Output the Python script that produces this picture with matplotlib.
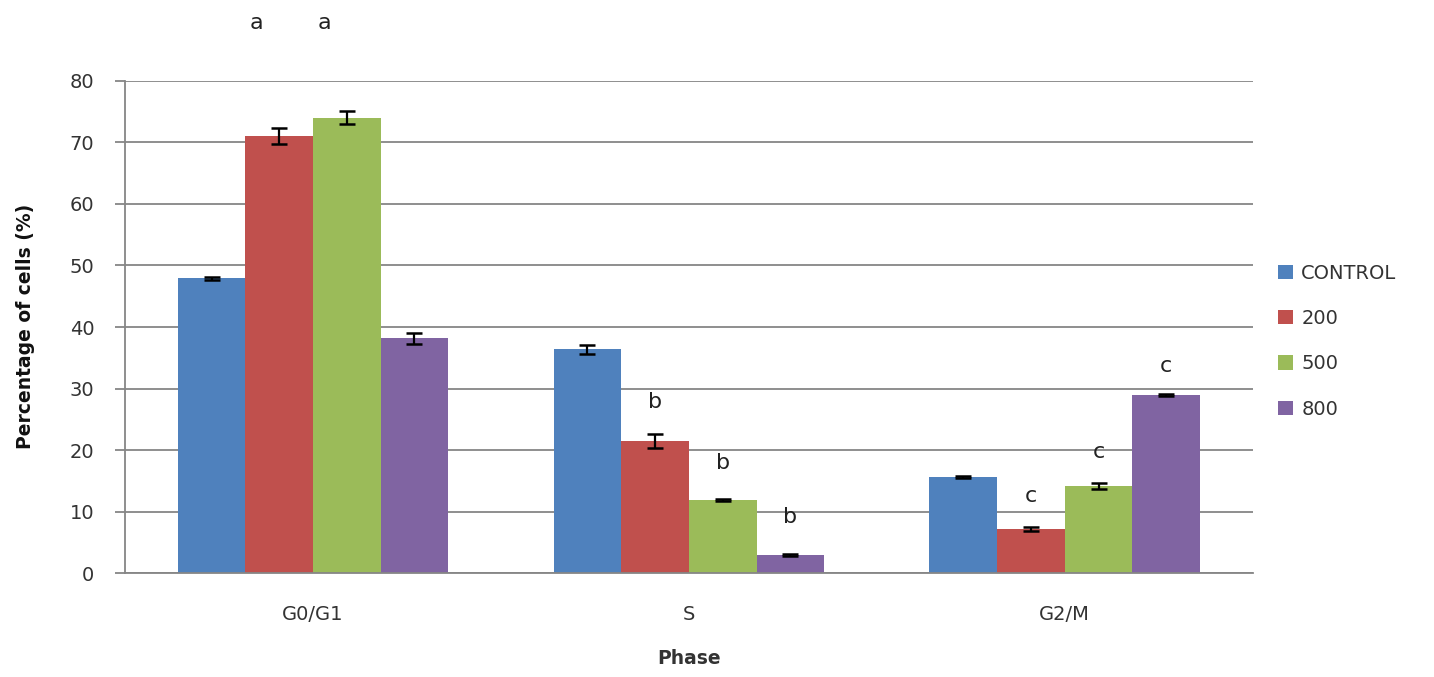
import numpy as np
import matplotlib
matplotlib.use("Agg")
import matplotlib.pyplot as plt

# Données
phases = ["G0/G1", "S", "G2/M"]
groups = ["CONTROL", "200", "500", "800"]
control = [47.9, 36.4, 15.7]
dose_200 = [71.0, 21.5, 7.2]
dose_500 = [74.0, 11.9, 14.2]
dose_800 = [38.2, 3.0, 29.0]
err_control = [0.2, 0.7, 0.2]
err_200 = [1.3, 1.1, 0.35]
err_500 = [1.0, 0.2, 0.5]
err_800 = [0.9, 0.2, 0.2]

# Lettres de signification: (phase, série, lettre, hauteur)
sig_phase = [0, 0, 1, 1, 1, 2, 2, 2]
sig_series = [1, 2, 1, 2, 3, 1, 2, 3]
sig_letters = ["a", "a", "b", "b", "b", "c", "c", "c"]
sig_heights = [89.4, 89.4, 27.9, 17.9, 9.1, 12.5, 19.7, 33.7]

values = [control, dose_200, dose_500, dose_800]
errors = [err_control, err_200, err_500, err_800]
colors = ["#4F81BD", "#C0504D", "#9BBB59", "#8064A2"]
grid_col = "#868686"
txt_col = "#333333"

fig = plt.figure(figsize=(14.34, 6.77), dpi=100)
ax = fig.add_axes([0.0872, 0.1529, 0.7864, 0.7279])

x = np.arange(len(phases))
w = 0.18
for i, (vals, errs) in enumerate(zip(values, errors)):
    pos = x + (i - 1.5) * w
    ax.bar(pos, vals, width=w, color=colors[i], label=groups[i], zorder=2)
    ax.errorbar(pos, vals, yerr=errs, fmt="none", ecolor="black",
                elinewidth=1.6, capsize=6, capthick=1.8, zorder=3)

# Lettres au-dessus des barres
for p, s, letter, h in zip(sig_phase, sig_series, sig_letters, sig_heights):
    xpos = x[p] + (s - 1.5) * w
    if letter == "a":
        xpos -= 0.06
    ax.text(xpos, h, letter, ha="center", va="center", fontsize=16,
            color="#222222", clip_on=False)

ax.set_xlim(-0.5, 2.5)
ax.set_ylim(0, 80)
ax.set_yticks(np.arange(0, 81, 10))
ax.set_xticks(x)
ax.set_xticklabels(phases)
ax.yaxis.grid(True, color=grid_col, linewidth=1.3, zorder=0)
ax.set_axisbelow(True)
for side in ["top", "right"]:
    ax.spines[side].set_visible(False)
for side in ["left", "bottom"]:
    ax.spines[side].set_color(grid_col)
    ax.spines[side].set_linewidth(1.3)
ax.tick_params(axis="y", length=7, color=grid_col, width=1.3,
               labelsize=14, labelcolor=txt_col, pad=15)
ax.tick_params(axis="x", length=0, labelsize=14, labelcolor=txt_col, pad=23)

ax.set_xlabel("Phase", fontsize=13.5, fontweight="bold", color=txt_col, labelpad=18)
fig.text(0.0175, 0.518, "Percentage of cells (%)", rotation=90,
         ha="center", va="center", fontsize=13.5, fontweight="bold",
         color="#111111")

leg = ax.legend(loc="center left", bbox_to_anchor=(0.879, 0.496),
                bbox_transform=fig.transFigure, frameon=False,
                fontsize=14, handlelength=0.75, handleheight=0.75,
                handletextpad=0.45, labelspacing=1.35)
for t in leg.get_texts():
    t.set_color(txt_col)

fig.savefig("out.png", dpi=100)
